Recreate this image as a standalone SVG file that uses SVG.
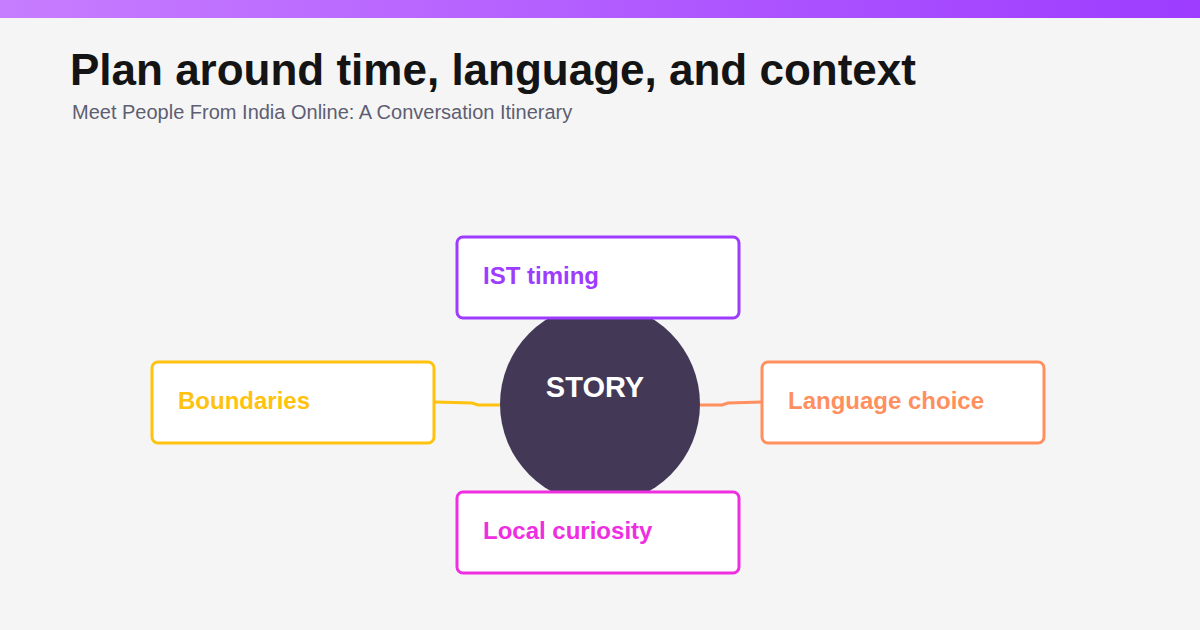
<svg xmlns="http://www.w3.org/2000/svg" width="1200" height="630" viewBox="0 0 1200 630">
<defs>
<linearGradient id="bar" x1="0" x2="1" y1="0" y2="0"><stop offset="0" stop-color="#c77dff"/><stop offset="1" stop-color="#9d3cff"/></linearGradient>
<style>
.box{fill:#fff;stroke-width:3}
.lbl{font-family:"Liberation Sans",Arial,sans-serif;font-weight:bold;font-size:24px}
.con{fill:none;stroke-width:3}
</style>
</defs>
<rect width="1200" height="630" fill="#f5f5f5"/>
<rect width="1200" height="18" fill="url(#bar)"/>
<text x="70" y="85" font-family="Liberation Sans,Arial,sans-serif" font-weight="bold" font-size="44" fill="#141414">Plan around time, language, and context</text>
<text x="72" y="119" font-family="Liberation Sans,Arial,sans-serif" font-size="20" fill="#5e5e72">Meet People From India Online: A Conversation Itinerary</text>
<g id="connectors">
<path class="con" stroke="#ffc20e" d="M435 402 L472 403 L478 405 L500 405"/>
<path class="con" stroke="#ff8f5e" d="M700 405 L722 405 L728 403 L762 402"/>
</g>
<g id="story"><circle cx="600" cy="404" r="100" fill="#433856"/>
<text x="595" y="397" text-anchor="middle" class="lbl" font-size="28" fill="#fff" style="font-size:29px">STORY</text></g>
<g id="ist"><rect class="box" x="457" y="237" width="282" height="81" rx="6" stroke="#9d3cff"/><text class="lbl" x="483" y="284" fill="#9d3cff">IST timing</text></g>
<g id="boundaries"><rect class="box" x="152" y="362" width="282" height="81" rx="6" stroke="#ffc20e"/><text class="lbl" x="178" y="409" fill="#ffc20e">Boundaries</text></g>
<g id="language"><rect class="box" x="762" y="362" width="282" height="81" rx="6" stroke="#ff8f5e"/><text class="lbl" x="788" y="409" fill="#ff8f5e">Language choice</text></g>
<g id="local"><rect class="box" x="457" y="492" width="282" height="81" rx="6" stroke="#ee2ee0"/><text class="lbl" x="483" y="539" fill="#ee2ee0">Local curiosity</text></g>
</svg>
